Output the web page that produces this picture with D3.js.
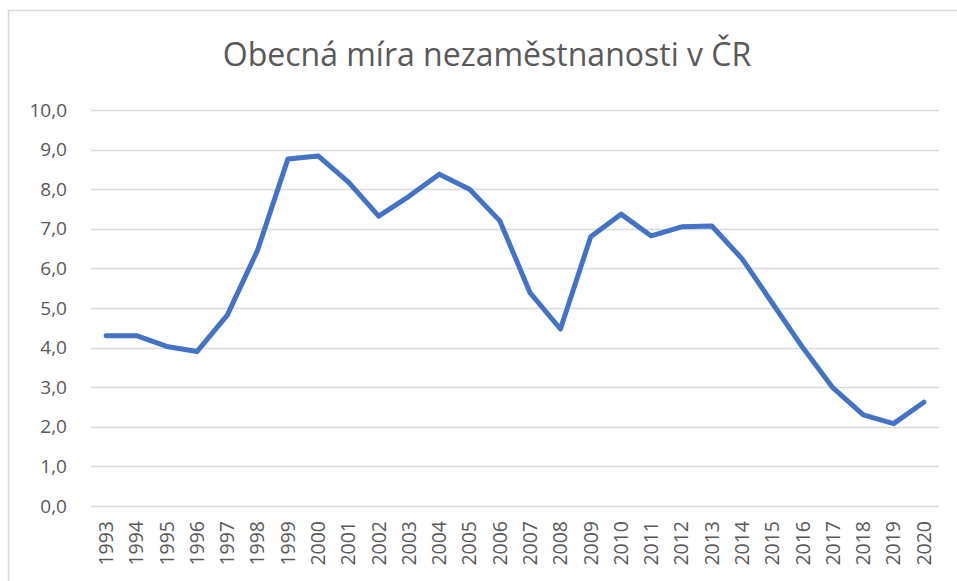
<!DOCTYPE html>
<html><head><meta charset="utf-8">
<script src="https://cdn.jsdelivr.net/npm/d3@7"></script>
<style>body{margin:0;background:#fff}svg{display:block}</style>
</head><body>
<script>
const years = ["1993","1994","1995","1996","1997","1998","1999","2000","2001","2002","2003","2004","2005","2006","2007","2008","2009","2010","2011","2012","2013","2014","2015","2016","2017","2018","2019","2020"];
const rates = [4.3,4.3,4.03,3.9,4.82,6.46,8.76,8.84,8.18,7.32,7.82,8.38,8.0,7.2,5.38,4.47,6.8,7.37,6.82,7.05,7.07,6.24,5.12,4.0,2.98,2.3,2.08,2.62];
const yTicks = [0,1,2,3,4,5,6,7,8,9,10];
const title = "Obecná míra nezaměstnanosti v ČR";

const W = 957, H = 581;
const svg = d3.select("body").append("svg").attr("width", W).attr("height", H);
svg.append("rect").attr("x", 8.5).attr("y", 10.5).attr("width", 1000).attr("height", 1000)
  .attr("fill", "#fff").attr("stroke", "#d9d9d9").attr("stroke-width", 1.5);

const x = d3.scaleBand().domain(years).range([91, 939]);
const y = d3.scaleLinear().domain([0, 10]).range([506, 110]);

svg.append("text").attr("x", 487).attr("y", 66).attr("text-anchor", "middle")
  .attr("font-family", "Open Sans, sans-serif").attr("font-size", 32).attr("fill", "#595959").text(title);

const grid = svg.append("g");
grid.selectAll("line").data(yTicks).join("line")
  .attr("x1", 91).attr("x2", 939).attr("y1", d => Math.round(y(d)) + 0.5).attr("y2", d => Math.round(y(d)) + 0.5)
  .attr("stroke", "#d9d9d9").attr("stroke-width", 1.5);

const yAxis = svg.append("g").attr("transform", "translate(91,0)")
  .call(d3.axisLeft(y).tickValues(yTicks).tickSize(0).tickPadding(24).tickFormat(d => d3.format(".1f")(d).replace(".", ",")));
yAxis.select(".domain").remove();
yAxis.selectAll("text").attr("font-family", "Open Sans, sans-serif").attr("font-size", 19).attr("fill", "#595959");

const xAxis = svg.append("g").attr("transform", "translate(0,506)")
  .call(d3.axisBottom(x).tickSize(0).tickPadding(0));
xAxis.select(".domain").remove();
xAxis.selectAll("text").attr("font-family", "Open Sans, sans-serif").attr("font-size", 19.5).attr("fill", "#595959")
  .attr("transform", "rotate(-90)").attr("text-anchor", "end").attr("dy", "0.35em").attr("x", -15).attr("y", 0);

const line = d3.line().x((d, i) => x(years[i]) + x.bandwidth() / 2).y(d => y(d));
svg.append("path").datum(rates).attr("d", line).attr("fill", "none")
  .attr("stroke", "#4472c4").attr("stroke-width", 5).attr("stroke-linejoin", "round").attr("stroke-linecap", "round");
</script>
</body></html>
